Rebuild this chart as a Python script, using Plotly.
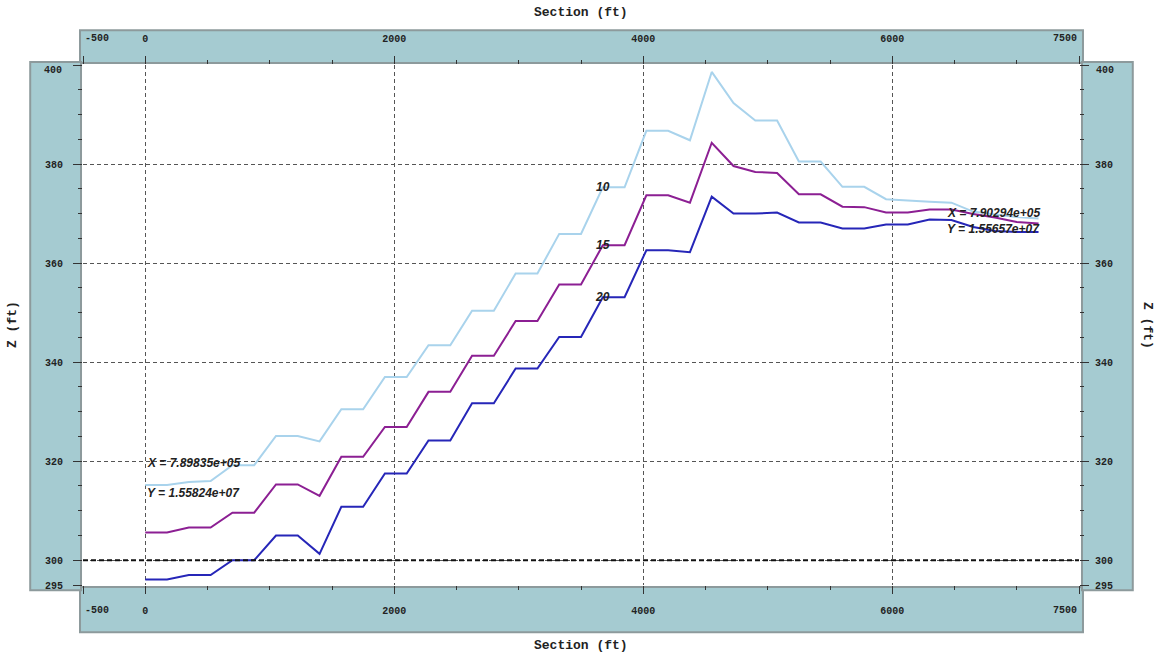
import plotly.graph_objects as go

# Section distance along the profile (ft)
section_ft = [0, 175, 350, 525, 700, 875, 1050, 1225, 1400, 1575, 1750, 1925, 2100, 2275,
              2450, 2625, 2800, 2975, 3150, 3325, 3500, 3675, 3850, 4025, 4200, 4375, 4550,
              4725, 4900, 5075, 5250, 5425, 5600, 5775, 5950, 6125, 6300, 6475, 6650, 6825,
              7000, 7175]

# Elevation profiles (ft) for each contour level
z_10 = [315.2, 315.2, 315.8, 316.0, 319.2, 319.2, 325.1, 325.1, 324.0, 330.5, 330.5, 337.0,
        337.0, 343.4, 343.4, 350.4, 350.4, 357.9, 357.9, 365.9, 365.9, 375.3, 375.3, 386.7,
        386.7, 384.8, 398.6, 392.3, 388.8, 388.8, 380.5, 380.5, 375.4, 375.4, 372.9, 372.6,
        372.4, 372.2, 370.4, 369.8, 369.3, 369.0]
z_15 = [305.6, 305.6, 306.6, 306.6, 309.6, 309.6, 315.3, 315.3, 313.0, 320.9, 320.9, 326.9,
        326.9, 334.0, 334.0, 341.3, 341.3, 348.3, 348.3, 355.7, 355.7, 363.6, 363.6, 373.7,
        373.7, 372.2, 384.3, 379.6, 378.4, 378.2, 373.9, 373.9, 371.4, 371.3, 370.2, 370.2,
        370.8, 370.8, 369.9, 369.2, 368.3, 368.0]
z_20 = [296.1, 296.1, 297.0, 297.0, 300.0, 300.0, 305.0, 305.0, 301.3, 310.8, 310.8, 317.5,
        317.5, 324.2, 324.2, 331.7, 331.7, 338.7, 338.7, 345.1, 345.1, 353.1, 353.1, 362.6,
        362.6, 362.2, 373.4, 370.0, 370.0, 370.2, 368.2, 368.2, 367.0, 367.0, 367.8, 367.8,
        368.8, 368.7, 367.3, 366.5, 366.3, 366.3]

series_names = ["10", "15", "20"]
series_values = [z_10, z_15, z_20]
series_colors = ["#a9d3ec", "#8c1f93", "#2626b8"]
label_index = 21  # vertex where contour labels sit

x_ticks = [-500, 0, 2000, 4000, 6000, 7500]
y_ticks = [295, 300, 320, 340, 360, 380, 400]
x_range = [-500, 7500]
y_range = [295, 400]

start_label = ["X = 7.89835e+05", "Y = 1.55824e+07"]
end_label = ["X = 7.90294e+05", "Y = 1.55657e+07"]

STRIP = "#a5cbd1"
STRIP_EDGE = "#8d9a9c"
GRID_DASH = "4px,3px"
TICK_FONT = dict(family="Liberation Mono", size=10, color="#222", weight="bold")
TITLE_FONT = dict(family="Liberation Mono", size=13, color="#222", weight="bold")
NOTE_FONT = dict(family="Liberation Sans", size=12, color="#222", weight="bold", style="italic")

fig = go.Figure()

for name, vals, col in zip(series_names, series_values, series_colors):
    fig.add_trace(go.Scatter(x=section_ft, y=vals, mode="lines", name=name,
                             line=dict(color=col, width=2), showlegend=False))

# carrier trace so the mirrored top/right axes get drawn
fig.add_trace(go.Scatter(x=section_ft, y=z_20, xaxis="x2", yaxis="y2", mode="lines",
                         line=dict(width=0), opacity=0, hoverinfo="skip", showlegend=False))

# contour level labels
for name, vals in zip(series_names, series_values):
    fig.add_annotation(x=section_ft[label_index], y=vals[label_index], text=name,
                       showarrow=False, font=NOTE_FONT, xanchor="center", yanchor="middle")

# coordinate notes at both ends of the section
fig.add_annotation(x=section_ft[0], y=319.6, text=start_label[0], showarrow=False,
                   font=NOTE_FONT, xanchor="left", yanchor="middle")
fig.add_annotation(x=section_ft[0], y=313.5, text=start_label[1], showarrow=False,
                   font=NOTE_FONT, xanchor="left", yanchor="middle")
fig.add_annotation(x=6420, y=370.2, text=end_label[0], showarrow=False,
                   font=NOTE_FONT, xanchor="left", yanchor="middle")
fig.add_annotation(x=6420, y=366.9, text=end_label[1], showarrow=False,
                   font=NOTE_FONT, xanchor="left", yanchor="middle")

# end-of-range tick labels kept inside the strips
for yp, ys in ((1.0, 27), (0.0, -25)):
    fig.add_annotation(x=x_ticks[0], xref="x", yref="paper", y=yp, yshift=ys,
                       text=str(x_ticks[0]), showarrow=False, font=TICK_FONT,
                       xanchor="left", yanchor="middle")
    fig.add_annotation(x=x_ticks[-1], xref="x", yref="paper", y=yp, yshift=ys,
                       text=str(x_ticks[-1]), showarrow=False, font=TICK_FONT,
                       xanchor="right", yanchor="middle")
for xp, xs, anchor in ((0.0, -19, "right"), (1.0, 15, "left")):
    fig.add_annotation(x=xp, xref="paper", yref="y", y=y_ticks[-1], xshift=xs, yshift=-5,
                       text=str(y_ticks[-1]), showarrow=False, font=TICK_FONT,
                       xanchor=anchor, yanchor="middle")

# axis titles
fig.add_annotation(xref="paper", yref="paper", x=0.5, y=1.0, yshift=53, text="Section (ft)",
                   showarrow=False, font=TITLE_FONT, xanchor="center", yanchor="middle")
fig.add_annotation(xref="paper", yref="paper", x=0.5, y=0.0, yshift=-60, text="Section (ft)",
                   showarrow=False, font=TITLE_FONT, xanchor="center", yanchor="middle")
fig.add_annotation(xref="paper", yref="paper", x=0.0, y=0.5, xshift=-71, text="Z (ft)",
                   textangle=-90, showarrow=False, font=TITLE_FONT, xanchor="center",
                   yanchor="middle")
fig.add_annotation(xref="paper", yref="paper", x=1.0, y=0.5, xshift=69, text="Z (ft)",
                   textangle=90, showarrow=False, font=TITLE_FONT, xanchor="center",
                   yanchor="middle")

# shaded axis strips around the plotting area
strips = [
    (-0.003, 1.004, 1.004, 1.067),    # top
    (-0.003, 1.004, -0.091, -0.004),  # bottom
    (-0.053, -0.002, -0.010, 1.006),  # left
    (1.003, 1.054, -0.010, 1.006),    # right
]
for x0, x1, y0, y1 in strips:
    fig.add_shape(type="rect", xref="paper", yref="paper", x0=x0, x1=x1, y0=y0, y1=y1,
                  fillcolor=STRIP, line=dict(color=STRIP_EDGE, width=2), layer="below")

# heavier reference line at 300 ft
fig.add_shape(type="line", xref="paper", yref="y", x0=0, x1=1, y0=y_ticks[1], y1=y_ticks[1],
              line=dict(color="#111", width=2, dash="5px,3px"))

x_text = ["" if v in (x_ticks[0], x_ticks[-1]) else str(v) for v in x_ticks]
y_text = ["" if v == y_ticks[-1] else str(v) for v in y_ticks]

common_x = dict(range=x_range, tickmode="array", tickvals=x_ticks, ticktext=x_text,
                ticks="outside", ticklen=8, tickcolor="#333", tickwidth=1,
                tickfont=TICK_FONT, zeroline=False, showline=False,
                minor=dict(dtick=500, tick0=-500, ticks="outside", ticklen=4,
                           tickcolor="#333", showgrid=False))
common_y = dict(range=y_range, tickmode="array", tickvals=y_ticks, ticktext=y_text,
                ticks="outside", ticklen=9, tickcolor="#333", tickwidth=1,
                tickfont=TICK_FONT, zeroline=False, showline=False,
                minor=dict(dtick=5, tick0=300, ticks="outside", ticklen=4,
                           tickcolor="#333", showgrid=False))

fig.update_layout(
    width=1159, height=666,
    margin=dict(l=83, r=80, t=65, b=81),
    paper_bgcolor="white", plot_bgcolor="white",
    xaxis=dict(**common_x, side="bottom", showgrid=True, gridcolor="#555", gridwidth=1,
               griddash=GRID_DASH, ticklabelstandoff=8),
    xaxis2=dict(**common_x, side="top", overlaying="x", anchor="y", showgrid=False,
                ticklabelstandoff=10),
    yaxis=dict(**common_y, side="left", showgrid=True, gridcolor="#555", gridwidth=1,
               griddash=GRID_DASH, ticklabelstandoff=8),
    yaxis2=dict(**common_y, side="right", overlaying="y", anchor="x", showgrid=False,
                ticklabelstandoff=4),
)

fig.write_html("out.html")
